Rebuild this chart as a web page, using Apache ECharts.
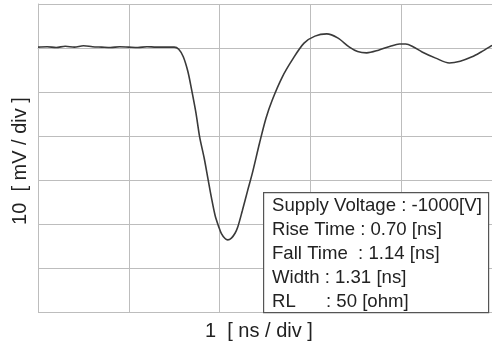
<!DOCTYPE html>
<html>
<head>
<meta charset="utf-8">
<script src="https://cdn.jsdelivr.net/npm/echarts@6/dist/echarts.min.js"></script>
<style>html,body{margin:0;padding:0;background:#fff;}#c{width:492px;height:351px;}</style>
</head>
<body>
<div id="c"></div>
<script>
// time in ns (1 ns / div), amplitude in mV (10 mV / div)
const timeNs = [0.00,0.10,0.20,0.30,0.40,0.50,0.60,0.70,0.80,0.90,1.00,1.10,1.20,1.30,1.40,1.50,1.55,1.60,1.65,1.69,1.74,1.78,1.83,1.87,1.91,1.95,1.99,2.02,2.06,2.09,2.13,2.17,2.20,2.25,2.31,2.36,2.44,2.51,2.58,2.69,2.80,2.93,3.05,3.18,3.30,3.43,3.52,3.62,3.75,3.88,3.98,4.05,4.13,4.23,4.38,4.53,4.65,4.78,4.88,4.97,5.00];
const signalMv = [0.2,0.3,0.1,0.4,0.2,0.5,0.3,0.2,0.1,0.3,0.2,0.1,0.3,0.2,0.2,0.2,-0.3,-2.0,-5.3,-9.3,-14.8,-20.2,-25.0,-29.5,-34.0,-38.0,-40.6,-42.2,-43.3,-43.6,-43.2,-42.1,-40.7,-37.0,-32.3,-28.5,-21.6,-16.0,-11.8,-6.6,-2.7,1.1,2.7,3.2,2.3,0.2,-0.8,-1.1,-0.5,0.4,0.9,0.9,0.3,-0.9,-2.3,-3.4,-3.0,-2.0,-0.9,0.2,0.6];
const xTicks = [0,1,2,3,4,5];
const yTicks = [-60,-50,-40,-30,-20,-10,0,10];
const infoLabels = ['Supply Voltage : -1000[V]','Rise Time : 0.70 [ns]','Fall Time  : 1.14 [ns]','Width : 1.31 [ns]'];
const rlLabel = ['RL', ': 50 [ohm]'];
const xTitle = '1  [ ns / div ]';
const yTitle = '10  [ mV / div ]';

const chart = echarts.init(document.getElementById('c'), null, {renderer:'canvas'});
const gridColor = '#bdbdbd';
const font = '"Liberation Sans", Arial, sans-serif';
const legendFont = '18.6px ' + font;
const data = timeNs.map((t,i)=>[t, signalMv[i]]);
const infoTexts = infoLabels.map((s,i)=>({
  type:'text', left:272, top:196 + i*24, z:11,
  style:{text:s, font:legendFont, fill:'#222'}
}));
chart.setOption({
  animation:false,
  grid:{left:38, top:4, width:455, height:308},
  xAxis:{type:'value', min:xTicks[0], max:xTicks[xTicks.length-1], interval:1,
    axisLine:{show:true, lineStyle:{color:gridColor, width:1}}, axisTick:{show:false}, axisLabel:{show:false},
    splitLine:{show:true, lineStyle:{color:gridColor, width:1}}},
  yAxis:{type:'value', min:yTicks[0], max:yTicks[yTicks.length-1], interval:10,
    axisLine:{show:true, lineStyle:{color:gridColor, width:1}}, axisTick:{show:false}, axisLabel:{show:false},
    splitLine:{show:true, lineStyle:{color:gridColor, width:1}}},
  series:[{type:'line', data:data, showSymbol:false, smooth:0.3,
    lineStyle:{color:'#3a3a3a', width:1.6}}],
  graphic:[
    {type:'rect', left:263, top:192, shape:{width:225, height:120},
      style:{fill:'#fff', stroke:'#555', lineWidth:1.2}, z:10},
    ...infoTexts,
    {type:'text', left:272, top:292, z:11, style:{text:rlLabel[0], font:legendFont, fill:'#222'}},
    {type:'text', left:326, top:292, z:11, style:{text:rlLabel[1], font:legendFont, fill:'#222'}},
    {type:'text', left:205, top:321, style:{text:xTitle, font:'20px ' + font, fill:'#222'}},
    {type:'text', x:20, y:161, rotation:Math.PI/2,
      style:{text:yTitle, font:'20px ' + font, fill:'#222', align:'center', verticalAlign:'middle'}}
  ]
});
</script>
</body>
</html>
